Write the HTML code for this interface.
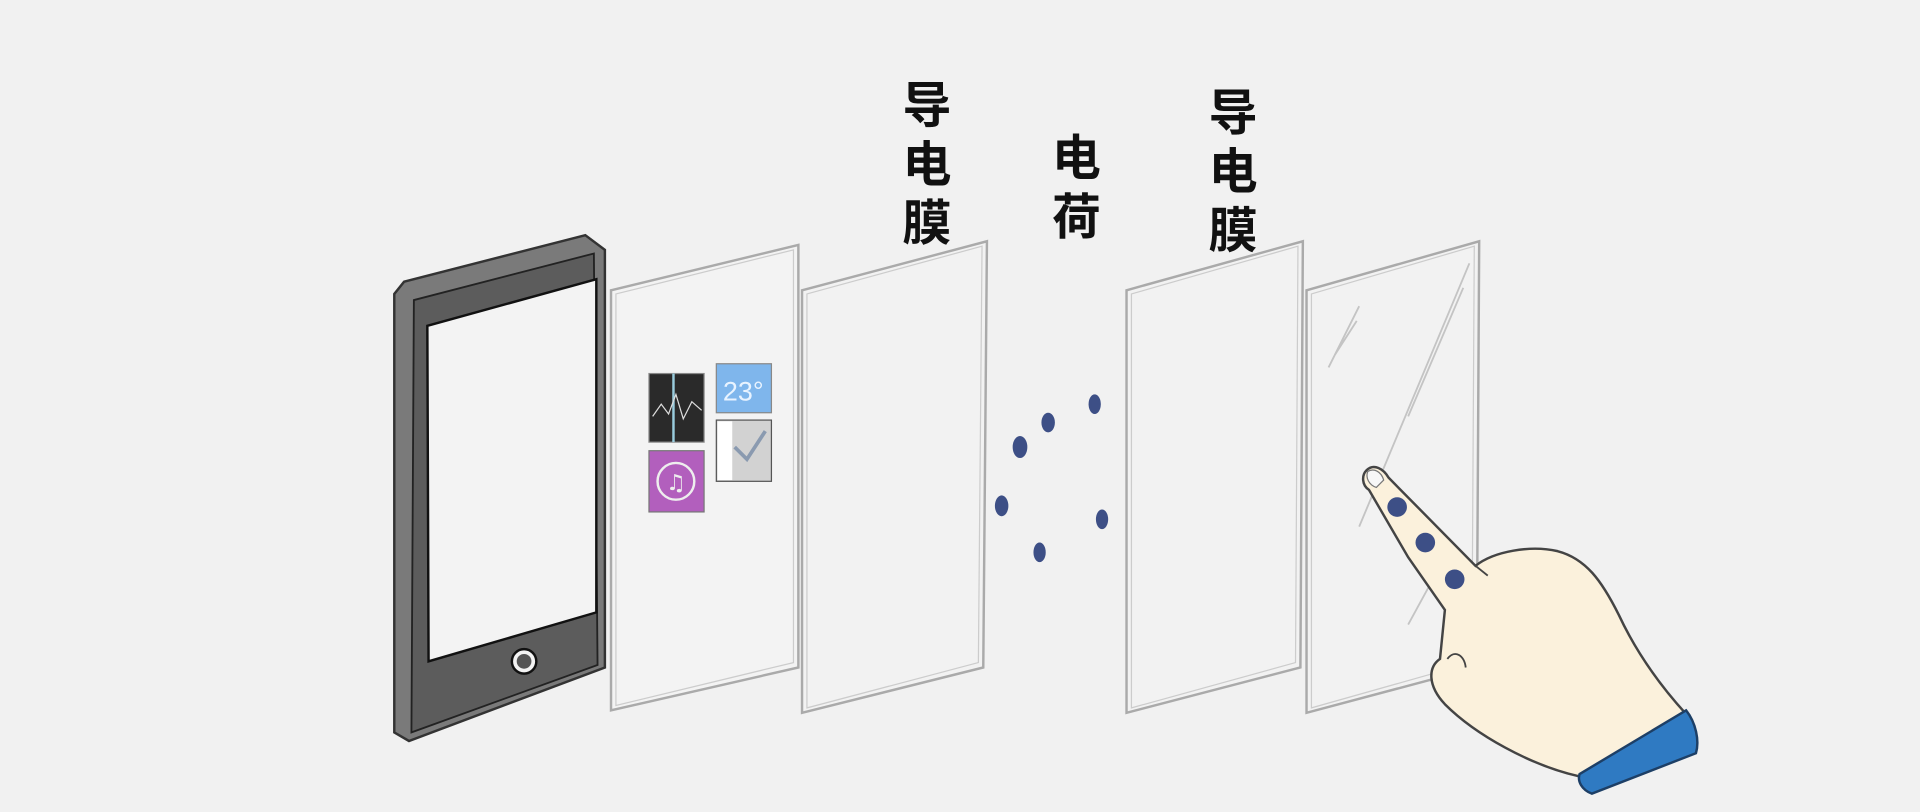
<!DOCTYPE html>
<html><head><meta charset="utf-8"><style>html,body{margin:0;padding:0;background:#f1f1f1;overflow:hidden}svg{display:block}</style></head>
<body>
<svg width="1920" height="812" viewBox="0 0 1568 663" preserveAspectRatio="none" xmlns="http://www.w3.org/2000/svg">
<rect width="1568" height="663" fill="#f1f1f1"/>
<!-- phone -->
<path d="M330,230 L478,192 L494,204 L494,545 L334,605 L322,598 L322,240 Z" fill="#7a7a7a" stroke="#333" stroke-width="2"/>
<path d="M338,245 L485,207 L488,543 L336,598 Z" fill="#5c5c5c" stroke="#222" stroke-width="1.5"/>
<path d="M349,266 L487,228 L487,500 L350,540 Z" fill="#f3f3f3" stroke="#111" stroke-width="2"/>
<circle cx="428" cy="540" r="10" fill="#f3f3f3" stroke="#111" stroke-width="2"/>
<circle cx="428" cy="540" r="6" fill="#555"/>
<!-- panel 1 -->
<path d="M499,237 L652,200 L652,545 L499,580 Z" fill="#f3f3f3" stroke="#aaa" stroke-width="2"/>
<path d="M503,240 L648,204 L648,541 L503,576 Z" fill="none" stroke="#ccc" stroke-width="1"/>
<rect x="530" y="305" width="45" height="56" fill="#2a2a2a" stroke="#888"/>
<line x1="550" y1="305" x2="550" y2="361" stroke="#9cd" stroke-width="2"/>
<path d="M533,340 L540,330 L546,338 L552,322 L558,342 L565,328 L573,335" fill="none" stroke="#ddd" stroke-width="1"/>
<rect x="585" y="297" width="45" height="40" fill="#7fb6ec" stroke="#888"/>
<text x="607" y="327" font-family="Liberation Sans, sans-serif" font-size="22" fill="#e8f3ff" text-anchor="middle">23°</text>
<rect x="530" y="368" width="45" height="50" fill="#b25fbd" stroke="#777"/>
<circle cx="552" cy="393" r="15" fill="none" stroke="#eee" stroke-width="2"/>
<text x="552" y="400" font-family="DejaVu Sans, sans-serif" font-size="18" fill="#eee" text-anchor="middle">♫</text>
<rect x="585" y="343" width="45" height="50" fill="#d2d2d2" stroke="#555"/>
<rect x="586" y="344" width="12" height="48" fill="#fff"/>
<path d="M600,365 L610,375 L625,352" fill="none" stroke="#8a9ab0" stroke-width="3"/>
<!-- panel 2 -->
<path d="M655,237 L806,197 L803,545 L655,582 Z" fill="#f2f2f2" stroke="#aaa" stroke-width="2"/>
<path d="M659,240 L802,201 L799,541 L659,578 Z" fill="none" stroke="#ccc" stroke-width="1"/>
<!-- panel 3 -->
<path d="M920,237 L1064,197 L1062,545 L920,582 Z" fill="#f2f2f2" stroke="#aaa" stroke-width="2"/>
<path d="M924,240 L1060,201 L1058,541 L924,578 Z" fill="none" stroke="#ccc" stroke-width="1"/>
<!-- panel 4 -->
<path d="M1067,237 L1208,197 L1206,545 L1067,582 Z" fill="#f2f2f2" stroke="#aaa" stroke-width="2"/>
<path d="M1071,240 L1204,201 L1202,541 L1071,578 Z" fill="none" stroke="#ccc" stroke-width="1"/>
<path d="M1085,300 L1110,250 M1090,290 L1108,262 M1200,215 L1110,430 M1195,235 L1150,340 M1150,510 L1180,455" stroke="#c4c4c4" stroke-width="1.5" fill="none"/>
<!-- labels -->
<g font-family="Liberation Sans, 'Noto Sans CJK SC', sans-serif" font-size="40" font-weight="bold" fill="#111" text-anchor="middle">
<text x="757" y="100">导</text><text x="757" y="148">电</text><text x="757" y="196">膜</text>
<text x="879" y="143">电</text><text x="879" y="191">荷</text>
<text x="1007" y="106">导</text><text x="1007" y="154">电</text><text x="1007" y="202">膜</text>
</g>
<!-- charges -->
<g fill="#3d4f86">
<ellipse cx="833" cy="365" rx="6" ry="9"/><ellipse cx="856" cy="345" rx="5.5" ry="8"/><ellipse cx="894" cy="330" rx="5" ry="8"/>
<ellipse cx="818" cy="413" rx="5.5" ry="8.5"/><ellipse cx="849" cy="451" rx="5" ry="8"/><ellipse cx="900" cy="424" rx="5" ry="8"/>
</g>
<!-- hand -->
<path d="M1116,384 C1122,378 1130,383 1134,390 L1205,462 C1220,450 1250,445 1272,450 C1295,456 1308,474 1322,502 C1336,532 1356,560 1377,583 L1290,634 C1250,625 1205,600 1180,575 C1166,560 1166,545 1176,538 L1180,498 L1150,455 L1118,400 C1112,396 1112,388 1116,384 Z" fill="#fbf1dc" stroke="#444" stroke-width="2"/>
<path d="M1117,385 C1122,382 1128,385 1130,392 L1124,398 C1118,396 1115,390 1117,385 Z" fill="#f7f7f7" stroke="#777" stroke-width="1"/>
<path d="M1197,545 C1196,535 1188,530 1182,538" fill="none" stroke="#444" stroke-width="1.5"/>
<path d="M1205,462 L1215,470" stroke="#444" stroke-width="1.5"/>
<path d="M1290,632 L1377,580 C1385,590 1388,605 1385,615 L1300,648 C1292,645 1288,638 1290,632 Z" fill="#2f7ac2" stroke="#1d3f66" stroke-width="2"/>
<g fill="#3d4f86"><circle cx="1141" cy="414" r="8"/><circle cx="1164" cy="443" r="8"/><circle cx="1188" cy="473" r="8"/></g>
</svg>
</body></html>
